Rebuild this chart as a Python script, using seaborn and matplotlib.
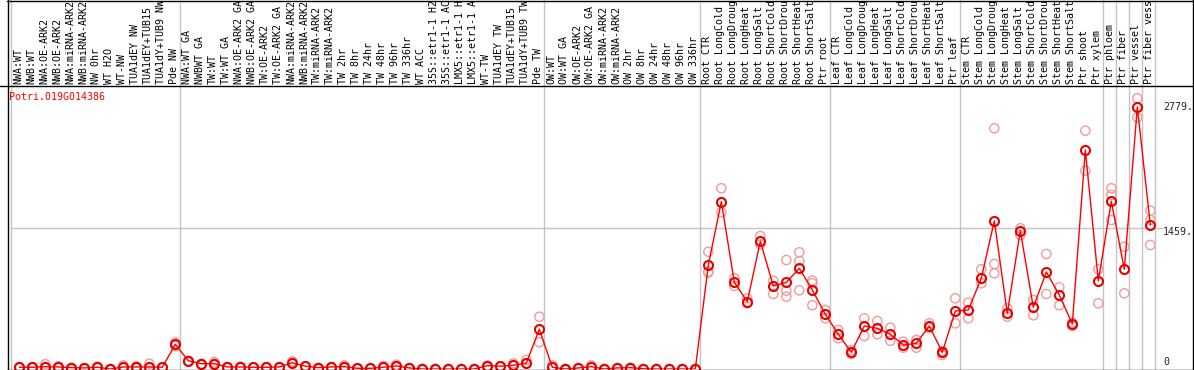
import numpy as np
import pandas as pd
import matplotlib
matplotlib.use("Agg")
import matplotlib.pyplot as plt
import seaborn as sns
from matplotlib.lines import Line2D
from matplotlib.transforms import blended_transform_factory

# ---------------- data ----------------
gene_id = "Potri.019G014386"

labels_nw = ["NWA:WT", "NWB:WT", "NWA:OE-ARK2", "NWB:OE-ARK2", "NWA:miRNA-ARK2",
             "NWB:miRNA-ARK2", "NW 0hr", "WT H2O", "WT-NW", "TUA1dEY NW",
             "TUA1dEY+TUB15", "TUA1dY+TUB9 NW", "Pde NW"]
labels_tw = ["NWA:WT GA", "NWBWT GA", "TW:WT", "TW:WT GA", "NWA:OE-ARK2 GA",
             "NWB:OE-ARK2 GA", "TW:OE-ARK2", "TW:OE-ARK2 GA", "NWA:miRNA-ARK2",
             "NWB:miRNA-ARK2", "TW:miRNA-ARK2", "TW:miRNA-ARK2", "TW 2hr", "TW 8hr",
             "TW 24hr", "TW 48hr", "TW 96hr", "TW 336hr", "WT ACC", "35S::etr1-1 H2",
             "35S::etr1-1 AC", "LMX5::etr1-1 H", "LMX5::etr1-1 A", "WT-TW",
             "TUA1dEY TW", "TUA1dEY+TUB15", "TUA1dY+TUB9 TW", "Pde TW"]
labels_ow = ["OW:WT", "OW:WT GA", "OW:OE-ARK2", "OW:OE-ARK2 GA", "OW:miRNA-ARK2",
             "OW:miRNA-ARK2", "OW 2hr", "OW 8hr", "OW 24hr", "OW 48hr", "OW 96hr",
             "OW 336hr"]
labels_root = ["Root CTR", "Root LongCold", "Root LongDroug", "Root LongHeat",
               "Root LongSalt", "Root ShortCold", "Root ShortDrou", "Root ShortHeat",
               "Root ShortSalt", "Ptr root"]
labels_leaf = ["Leaf CTR", "Leaf LongCold", "Leaf LongDroug", "Leaf LongHeat",
               "Leaf LongSalt", "Leaf ShortCold", "Leaf ShortDrou", "Leaf ShortHeat",
               "Leaf ShortSalt", "Ptr leaf"]
labels_stem = ["Stem CTR", "Stem LongCold", "Stem LongDroug", "Stem LongHeat",
               "Stem LongSalt", "Stem ShortCold", "Stem ShortDrou", "Stem ShortHeat",
               "Stem ShortSalt", "Ptr shoot", "Ptr xylem"]
labels_tissue = ["Ptr phloem", "Ptr fiber", "Ptr vessel", "Ptr fiber vess"]

means_nw = [18, 18, 24, 21, 14, 11, 18, 0, 21, 21, 21, 18, 256]
means_tw = [86, 55, 55, 21, 21, 18, 18, 21, 65, 29, 14, 21, 24, 7, 7, 18, 32, 11,
            0, 0, 0, 0, 0, 35, 29, 39, 60, 412]
means_ow = [18, 0, 11, 24, 0, 11, 14, 3, 0, 0, 0, 0]
means_root = [1078, 1735, 899, 698, 1324, 861, 899, 1044, 819, 567]
means_leaf = [360, 173, 446, 422, 360, 249, 267, 446, 173, 601]
means_stem = [612, 941, 1535, 578, 1434, 640, 1006, 767, 467, 2271, 913]
means_tissue = [1739, 1034, 2717, 1493]

reps_nw = [[18, 14], [18, 21], [49, 21], [21, 28], [14, 11], [11, 7], [18, 24], [0, 3],
           [38, 21], [21, 28], [55, 18], [18, 14], [277, 239]]
reps_tw = [[86, 80], [55, 50], [73, 55], [21, 18], [21, 24], [18, 14], [18, 21],
           [21, 18], [80, 65], [29, 24], [14, 11], [21, 18], [38, 24], [7, 3], [7, 3],
           [31, 18], [45, 32], [11, 7], [0, 3], [0, 3], [0, 3], [0, 3], [0, 3], [35, 31],
           [29, 24], [59, 39], [93, 60], [542, 277]]
reps_ow = [[38, 18], [0, 3], [11, 7], [38, 24], [0, 3], [11, 7], [14, 11], [3, 0],
           [0, 3], [0, 3], [0, 3], [0, 3]]
reps_root = [[1216, 1009, 999], [1874, 1625], [941, 861], [733, 681], [1379, 1293],
             [916, 778], [1130, 812, 750], [1210, 1120, 816], [916, 889, 661], [612, 526]]
reps_leaf = [[404, 318], [197, 156], [526, 342], [498, 360], [428, 293], [283, 221],
             [301, 221], [474, 425], [145, 187], [733, 474]]
reps_stem = [[688, 526], [1034, 889], [2496, 1089, 992], [629, 542], [1459, 1390],
             [716, 557], [1193, 778], [847, 661], [480, 446], [2471, 2056], [1034, 681]]
reps_tissue = [[1874, 1804, 1545], [1268, 785], [2807, 2610], [1642, 1545, 1286]]

y_tick_labels = ["2779.", "1459.", "0"]
mid_value = 1459

# ---------------- assemble ----------------
groups = [labels_nw, labels_tw, labels_ow, labels_root, labels_leaf, labels_stem,
          ["Ptr phloem"], ["Ptr fiber"], ["Ptr vessel"], ["Ptr fiber vess"]]
labels = sum(groups, [])
means = means_nw + means_tw + means_ow + means_root + means_leaf + means_stem + means_tissue
replicates = reps_nw + reps_tw + reps_ow + reps_root + reps_leaf + reps_stem + reps_tissue
n = len(labels)

df = pd.DataFrame({"idx": np.arange(n), "mean": means})
rep_rows = [(i, v) for i, vals in enumerate(replicates) for v in vals]
rep_df = pd.DataFrame(rep_rows, columns=["idx", "value"])

boundaries = np.cumsum([0] + [len(g) for g in groups])

# ---------------- figure ----------------
sns.set_style("white")
plt.rcParams["font.family"] = ["DejaVu Sans Mono"]
W, H = 1194, 370
fig = plt.figure(figsize=(W / 100, H / 100), dpi=100)
fig.patch.set_facecolor("white")
ax = fig.add_axes([11 / W, 1 / H, 1144 / W, 284 / H])

grey = "#c4c4c4"
xoff = 0.64
top_frac = 369 / 284
for b in boundaries:
    ax.axvline(b - xoff, ymin=0, ymax=top_frac, color=grey, lw=1, clip_on=False, zorder=0)
ax.axhline(mid_value, xmin=0, xmax=(1162 - 11) / 1144, color=grey, lw=1,
           clip_on=False, zorder=0)

sns.scatterplot(data=rep_df, x="idx", y="value", ax=ax, marker="o", s=44,
                linewidth=1.0, zorder=2, legend=False)
coll = ax.collections[-1]
coll.set_facecolor("none")
coll.set_edgecolor("#f29a9a")

sns.lineplot(data=df, x="idx", y="mean", ax=ax, color="red", lw=1, marker="o",
             markersize=6.5, markerfacecolor="none", markeredgecolor="#e80000",
             markeredgewidth=1.5, zorder=3, legend=False)

ax.set_xlim(-xoff, n - xoff)
ax.set_ylim(0, 2945)
ax.axis("off")

# sample labels (rotated, in header area)
trans = blended_transform_factory(ax.transData, fig.transFigure)
for i, lab in enumerate(labels):
    ax.text(i - 0.1, 1 - 83.5 / H, lab, rotation=90, ha="center", va="bottom",
            transform=trans, fontsize=7.2, color="black", clip_on=False)

# gene id
fig.text(9 / W, 1 - 97 / H, gene_id, color="red", fontsize=7.2, ha="left", va="center")

# value labels on right
fig.text(1163 / W, 1 - 107 / H, y_tick_labels[0], fontsize=7.2, ha="left", va="center")
fig.text(1163 / W, 1 - 232 / H, y_tick_labels[1], fontsize=7.2, ha="left", va="center")
fig.text(1163 / W, 1 - 362 / H, y_tick_labels[2], fontsize=7.2, ha="left", va="center")

# frame lines
def hline(py, x0, x1):
    fig.add_artist(Line2D([x0 / W, x1 / W], [1 - py / H, 1 - py / H],
                          transform=fig.transFigure, color="black", lw=1))

def vline(px, y0, y1):
    fig.add_artist(Line2D([px / W, px / W], [1 - y0 / H, 1 - y1 / H],
                          transform=fig.transFigure, color="black", lw=1))

hline(85.5, 0, W)
hline(369.5, 7, W)
hline(0.5, 7, 1193)
vline(7.5, 0, H)
vline(1192.5, 0, H)

fig.savefig("out.png", dpi=100)
